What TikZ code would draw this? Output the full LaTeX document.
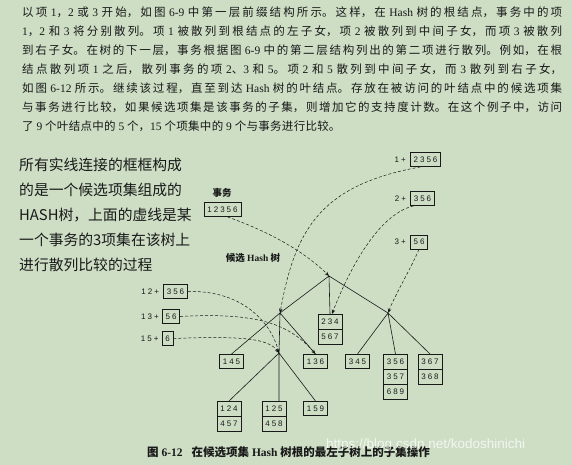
\documentclass[tikz,border=0pt]{standalone}
\usepackage{fontspec}
\usepackage{tikz}
\usetikzlibrary{positioning,arrows.meta,shapes.multipart}
\setmainfont{Liberation Serif}
\newfontfamily\cjk{Noto Sans CJK SC}
\newfontfamily\numfont[LetterSpace=25]{Liberation Sans}
\newfontfamily\wmfont{Liberation Sans}
\definecolor{bg}{RGB}{205,222,197}
\definecolor{ink}{RGB}{25,25,25}
% CJK characters get their own font inside mixed text
\newXeTeXintercharclass\CJKcls
\newcount\cjkc
\newcommand\setcjkrange[2]{\cjkc=#1 \loop\XeTeXcharclass\cjkc=\CJKcls\relax
  \ifnum\cjkc<#2 \advance\cjkc by 1 \repeat}
\setcjkrange{"3000}{"303F}
\setcjkrange{"4E00}{"9FFF}
\setcjkrange{"FF00}{"FFEF}
\XeTeXinterchartoks 0 \CJKcls = {\cjk}
\XeTeXinterchartoks 4095 \CJKcls = {\cjk}
\XeTeXinterchartoks \CJKcls 0 = {\rmfamily}
\XeTeXinterchartoks \CJKcls 4095 = {\rmfamily}
\newcommand\mixed{\XeTeXinterchartokenstate=1 \rmfamily}
\begin{document}
\begin{tikzpicture}[x=1pt,y=-1pt,
    itembox/.style={draw=ink,line width=0.6pt,inner xsep=3.3pt,inner ysep=4.3pt,
      text=ink,font=\numfont\fontsize{8}{9}\selectfont},
    itembox2/.style={itembox,rectangle split,rectangle split parts=2},
    itembox3/.style={itembox,rectangle split,rectangle split parts=3},
    sumlabel/.style={inner sep=0pt,text=ink,font=\numfont\fontsize{8}{9}\selectfont},
    tree/.style={draw=ink,line width=0.6pt},
    hashto/.style={draw=ink,line width=0.5pt,dash pattern=on 3pt off 2pt,
      -{Stealth[length=4.5pt,width=3.5pt]}}]
  \fill[bg] (0,0) rectangle (572,465);
  \useasboundingbox (0,0) rectangle (572,465);

  \node[anchor=north west,inner sep=0pt,text width=540pt,align=justify,text=ink,
    font=\mixed\fontsize{11.5}{19}\selectfont] (intro) at (22,7)
    {\XeTeXlinebreaklocale "zh"\XeTeXlinebreakskip=0.3pt plus 4pt\relax
    以项 1，2 或 3 开始，如图 6-9 中第一层前缀结构所示。这样，在 Hash 树的根结点，事务中的项\linebreak
    1，2 和 3 将分别散列。项 1 被散列到根结点的左子女，项 2 被散列到中间子女，而项 3 被散列\linebreak
    到右子女。在树的下一层，事务根据图 6-9 中的第二层结构列出的第二项进行散列。例如，在根\linebreak
    结点散列项 1 之后，散列事务的项 2、3 和 5。项 2 和 5 散列到中间子女，而 3 散列到右子女，\linebreak
    如图 6-12 所示。继续该过程，直至到达 Hash 树的叶结点。存放在被访问的叶结点中的候选项集\linebreak
    与事务进行比较，如果候选项集是该事务的子集，则增加它的支持度计数。在这个例子中，访问\linebreak
    了 9 个叶结点中的 5 个，15 个项集中的 9 个与事务进行比较。};

  \node[anchor=north west,inner sep=0pt,align=left,text=ink,
    font=\cjk\fontsize{14.8}{25}\selectfont] (note) at (19,157.5)
    {所有实线连接的框框构成\\的是一个候选项集组成的\\HASH树，上面的虚线是某\\一个事务的3项集在该树上\\进行散列比较的过程};

  \node[text=ink,font=\mixed\bfseries\fontsize{9.5}{11}\selectfont] (translabel) at (222,193) {事务};
  \node[itembox] (trans) at (222.5,209.5) {12356};
  \node[text=ink,font=\mixed\bfseries\fontsize{9.5}{11}\selectfont] (treelabel) at (253,258) {候选 Hash 树};

  \node[itembox] (b2356) at (425.5,159.5) {2356};
  \node[sumlabel,left=4pt of b2356] (p1) {1+};
  \node[itembox] (b356a) at (422.5,198.5) {356};
  \node[sumlabel,left=4pt of b356a] (p2) {2+};
  \node[itembox] (b56a) at (419,242) {56};
  \node[sumlabel,left=4pt of b56a] (p3) {3+};

  \node[itembox] (b356b) at (175.5,291.5) {356};
  \node[sumlabel,left=4pt of b356b] (p12) {12+};
  \node[itembox] (b56b) at (171,316.5) {56};
  \node[sumlabel,left=3pt of b56b] (p13) {13+};
  \node[itembox] (b6) at (167.5,338.5) {6};
  \node[sumlabel,left=3pt of b6] (p15) {15+};

  \coordinate (root) at (329,276);
  \coordinate (nl) at (280,313);
  \coordinate (nr) at (388,313);
  \coordinate (nll) at (279,353);
  \node[itembox2,anchor=north] (b234) at (330,314) {234\nodepart{two}567};
  \node[itembox,anchor=north] (b145) at (231.5,354) {145};
  \node[itembox,anchor=north] (b136) at (315.5,354) {136};
  \node[itembox,anchor=north] (b345) at (357.5,354) {345};
  \node[itembox3,anchor=north] (b356c) at (395.5,354) {356\nodepart{two}357\nodepart{three}689};
  \node[itembox2,anchor=north] (b367) at (430,354) {367\nodepart{two}368};
  \node[itembox2,anchor=north] (b124) at (229,401) {124\nodepart{two}457};
  \node[itembox2,anchor=north] (b125) at (274,401) {125\nodepart{two}458};
  \node[itembox,anchor=north] (b159) at (315.5,401) {159};

  \draw[tree] (root) -- (nl) (root) -- (b234.north) (root) -- (nr);
  \draw[tree] (nl) -- (b145.north) (nl) -- (nll) (nl) -- (b136.north);
  \draw[tree] (nll) -- (b124.north) (nll) -- (nll |- b125.north) (nll) -- (b159.north);
  \draw[tree] (nr) -- (b345.north) (nr) -- (b356c.north) (nr) -- (b367.north);

  \draw[hashto] ([xshift=5pt]trans.south) .. controls (270,232) and (305,252) .. (root);
  \draw[hashto] ([xshift=-5pt]b2356.south) .. controls (320,185) and (295,230) .. (nl);
  \draw[hashto] ([xshift=-9pt]b356a.south) .. controls (375,215) and (345,280) .. ([xshift=2pt]b234.north);
  \draw[hashto] (b56a.south) .. controls (410,270) and (395,295) .. (nr);
  \draw[hashto] (b356b.east) .. controls (240,290) and (270,320) .. (nll);
  \draw[hashto] (b56b.east) .. controls (260,312) and (290,325) .. (b136.north);
  \draw[hashto] (b6.east) .. controls (240,336) and (268,338) .. (nll);

  \node[anchor=west,inner sep=0pt,text=ink,font=\mixed\bfseries\fontsize{11.5}{13}\selectfont] (caption) at (147,452)
    {图 6-12\hspace{9pt}在候选项集 Hash 树根的最左子树上的子集操作};
  \node[anchor=west,inner sep=0pt,text=white,opacity=0.75,font=\wmfont\fontsize{13.5}{15}\selectfont] (mark) at (326,445)
    {https://blog.csdn.net/kodoshinichi};
\end{tikzpicture}
\end{document}
